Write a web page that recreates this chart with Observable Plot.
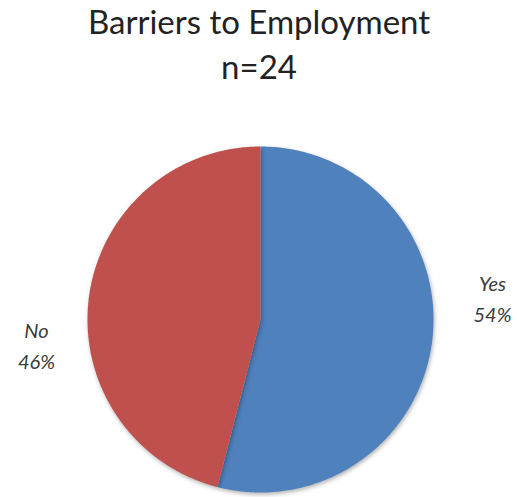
<!DOCTYPE html>
<html>
<head>
<meta charset="utf-8">
<script src="https://cdn.jsdelivr.net/npm/d3@7"></script>
<script src="https://cdn.jsdelivr.net/npm/@observablehq/plot@0.6"></script>
<style>
  html, body { margin: 0; padding: 0; background: #fff; }
  .pie path { filter: drop-shadow(1px 2px 2px rgba(0,0,0,0.3)); }
</style>
</head>
<body>
<div id="chart"></div>
<script>
// ---- data ----
const categories = ["Yes", "No"];
const percents = [54, 46];
const colors = ["#4F81BD", "#C0504D"];
const titleLines = ["Barriers to Employment", "n=24"];

// ---- layout ----
const W = 517, H = 497;
const cx = 260, cy = 319, R = 173;
const labelPos = {Yes: [492, 296], No: [36, 343]};

const pie = d3.pie().sort(null).value(d => d.value)(
  categories.map((c, i) => ({label: c, value: percents[i], color: colors[i]}))
);

// polygon points for each slice
const pts = [];
for (const s of pie) {
  const n = Math.max(4, Math.ceil((s.endAngle - s.startAngle) / 0.01));
  pts.push({label: s.data.label, x: cx, y: cy});
  for (let k = 0; k <= n; k++) {
    const a = s.startAngle + (s.endAngle - s.startAngle) * k / n;
    pts.push({label: s.data.label, x: cx + R * Math.sin(a), y: cy - R * Math.cos(a)});
  }
  pts.push({label: s.data.label, x: cx, y: cy});
}

const labels = pie.map(s => ({
  text: `${s.data.label}\n${s.data.value}%`,
  x: labelPos[s.data.label][0],
  y: labelPos[s.data.label][1]
}));

const chart = Plot.plot({
  width: W, height: H,
  margin: 0,
  x: {domain: [0, W], range: [0, W], axis: null},
  y: {domain: [0, H], range: [0, H], axis: null},
  color: {domain: categories, range: colors},
  style: {fontFamily: "Lato, 'Open Sans', sans-serif", background: "#fff"},
  marks: [
    Plot.line(pts, {x: "x", y: "y", z: "label", fill: "label", stroke: null, className: "pie", curve: "linear"}),
    Plot.text(labels, {x: "x", y: "y", text: "text", fontSize: 20, fontStyle: "italic", fill: "#3a3a3a", lineHeight: 1.55, textAnchor: "middle", lineAnchor: "middle"}),
    Plot.text([titleLines.join("\n")], {x: [W / 2], y: [42], text: d => d, fontSize: 33, fill: "#222", lineHeight: 1.36, textAnchor: "middle", lineAnchor: "middle"})
  ]
});
document.getElementById("chart").appendChild(chart);
</script>
</body>
</html>
